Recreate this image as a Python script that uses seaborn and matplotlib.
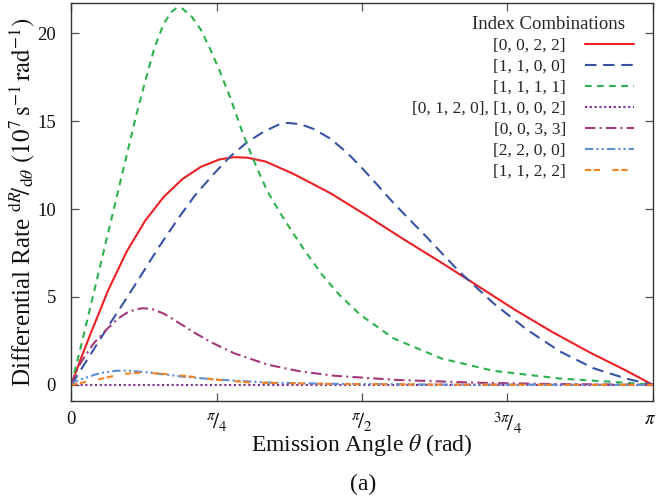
import numpy as np
import pandas as pd
import matplotlib
matplotlib.use("Agg")
import matplotlib.pyplot as plt
import matplotlib.transforms as mtransforms
import seaborn as sns

# Emission-angle samples (rad) and differential rates (10^7 s^-1 rad^-1) per index combination
theta_0022 = [0.0, 0.05, 0.1, 0.2, 0.3, 0.4, 0.5, 0.6, 0.7, 0.8, 0.88, 0.95, 1.05, 1.2, 1.4, 1.6,
              1.8, 2.0, 2.2, 2.4, 2.6, 2.8, 3.0, np.pi]
rate_0022 = [0.0, 1.45, 2.8, 5.4, 7.6, 9.35, 10.7, 11.7, 12.4, 12.82, 12.95, 12.92, 12.7, 12.0, 10.9, 9.6,
             8.25, 6.95, 5.6, 4.25, 3.0, 1.85, 0.8, 0.0]

theta_1100 = [0.0, 0.06, 0.12, 0.21, 0.30, 0.39, 0.48, 0.59, 0.67, 0.77, 0.86, 0.95, 1.04, 1.12,
              1.17, 1.24, 1.31, 1.40, 1.49, 1.56, 1.63, 1.74, 1.92, 2.10, 2.28, 2.46, 2.64,
              2.82, 3.00, np.pi]
rate_1100 = [0.0, 1.0, 2.0, 3.5, 4.95, 6.45, 7.95, 9.65, 10.8, 12.0, 13.0, 13.8, 14.4, 14.8,
             14.9, 14.82, 14.55, 14.0, 13.2, 12.45, 11.65, 10.35, 8.4, 6.4, 4.65, 3.15, 1.9,
             0.95, 0.35, 0.0]

theta_1111 = [0.0, 0.05, 0.10, 0.15, 0.20, 0.25, 0.30, 0.35, 0.40, 0.45, 0.50, 0.54, 0.57, 0.60,
              0.65, 0.70, 0.75, 0.80, 0.86, 0.93, 1.00, 1.06, 1.13, 1.20, 1.27, 1.36, 1.45,
              1.56, 1.74, 2.00, 2.28, 2.64, 3.00, np.pi]
rate_1111 = [0.0, 2.1, 4.3, 6.5, 8.7, 10.9, 13.1, 15.3, 17.3, 19.2, 20.55, 21.2, 21.45, 21.4,
             20.95, 20.2, 19.1, 17.9, 16.3, 14.2, 12.4, 11.0, 9.75, 8.6, 7.5, 6.2, 5.1,
             4.0, 2.65, 1.5, 0.8, 0.36, 0.12, 0.0]

theta_0120 = [0.0, np.pi / 4, np.pi / 2, 3 * np.pi / 4, np.pi]
rate_0120 = [0.0, 0.0, 0.0, 0.0, 0.0]

theta_0033 = [0.0, 0.02, 0.05, 0.12, 0.20, 0.25, 0.30, 0.35, 0.39, 0.44, 0.50, 0.57, 0.66, 0.76,
              0.88, 1.06, 1.24, 1.42, 1.76, 2.20, 2.60, np.pi]
rate_0033 = [0.0, 0.6, 1.25, 2.35, 3.25, 3.75, 4.1, 4.3, 4.36, 4.3, 4.05, 3.6, 3.0, 2.4,
             1.8, 1.15, 0.76, 0.52, 0.28, 0.12, 0.05, 0.0]

theta_2200 = [0.0, 0.02, 0.07, 0.15, 0.24, 0.31, 0.42, 0.60, 0.70, 0.76, 1.06, 1.42, 2.00, np.pi]
rate_2200 = [0.0, 0.19, 0.38, 0.66, 0.80, 0.81, 0.70, 0.47, 0.38, 0.32, 0.13, 0.06, 0.02, 0.0]

theta_1122 = [0.0, 0.15, 0.27, 0.38, 0.51, 0.69, 0.76, 0.97, 1.40, 2.00, np.pi]
rate_1122 = [0.0, 0.32, 0.61, 0.70, 0.62, 0.42, 0.32, 0.13, 0.05, 0.02, 0.0]

labels = ["[0, 0, 2, 2]", "[1, 1, 0, 0]", "[1, 1, 1, 1]", "[0, 1, 2, 0], [1, 0, 0, 2]",
          "[0, 0, 3, 3]", "[2, 2, 0, 0]", "[1, 1, 2, 2]"]
thetas = [theta_0022, theta_1100, theta_1111, theta_0120, theta_0033, theta_2200, theta_1122]
rates = [rate_0022, rate_1100, rate_1111, rate_0120, rate_0033, rate_2200, rate_1122]

colors = ["#ee2024", "#3953a4", "#2bb24c", "#7d2a8e", "#a3387a", "#5b8fd6", "#f7821e"]
dash_styles = ["", (5.5, 3.2), (3.2, 2.6), (1.0, 1.3), (5.0, 2.0, 1.0, 2.0),
               (4.0, 1.5, 1.0, 1.5, 1.0, 1.5), (3.0, 1.2, 3.0, 6.0)]

frames = [pd.DataFrame({"theta": t, "rate": r, "combo": lab})
          for t, r, lab in zip(thetas, rates, labels)]
df = pd.concat(frames, ignore_index=True)

sns.set_style("ticks")
plt.rcParams["font.family"] = ["Liberation Serif", "DejaVu Serif"]
plt.rcParams["mathtext.fontset"] = "stix"

fig = plt.figure(figsize=(6.56, 5.0), dpi=100)
ax = fig.add_axes([0.1087, 0.1986, 0.8864, 0.7948])

sns.lineplot(data=df, x="theta", y="rate", hue="combo", style="combo",
             hue_order=labels, style_order=labels,
             palette=dict(zip(labels, colors)), dashes=dict(zip(labels, dash_styles)),
             estimator=None, sort=True, linewidth=1.5, ax=ax)

ax.set_xlim(0, np.pi)
ax.set_ylim(-0.9, 21.7)
ax.set_xticks([0, np.pi / 4, np.pi / 2, 3 * np.pi / 4, np.pi])
ax.set_xticklabels(["0", r"$^{\pi}\!/_{4}$", r"$^{\pi}\!/_{2}$", r"$^{3\pi}\!/_{4}$", r"$\pi$"])
ax.set_yticks([0, 5, 10, 15, 20])
ax.tick_params(direction="in", length=6, width=0.9, color="#555555", labelsize=13.5,
               top=True, right=True, labelcolor="#111111")
ax.tick_params(axis="x", pad=7.5)
ax.tick_params(axis="y", pad=11)
xt = ax.get_xticklabels()
for lab in xt[1:4]:
    lab.set_fontsize(15.5)
xt[-1].set_transform(xt[-1].get_transform()
                     + mtransforms.ScaledTranslation(-3 / 100, 0, fig.dpi_scale_trans))
for sp in ax.spines.values():
    sp.set_color("#333333")
    sp.set_linewidth(1.0)

ax.set_xlabel(r"Emission Angle $\theta$ (rad)", fontsize=17, color="#111111", labelpad=-3)
ax.set_ylabel(r"Differential Rate $^{\mathrm{d}R}\!/_{\mathrm{d}\theta}$ "
              r"$\left(10^{7}\,\mathrm{s}^{-1}\,\mathrm{rad}^{-1}\right)$",
              fontsize=18, color="#111111", labelpad=0)

handles, _ = ax.get_legend_handles_labels()
leg = ax.legend(handles[-len(labels):], labels, title="Index Combinations",
                loc="upper right", bbox_to_anchor=(0.985, 0.995), frameon=False,
                markerfirst=False, fontsize=12.5, title_fontsize=13.5,
                handlelength=2.8, handletextpad=1.1, labelspacing=0.28,
                borderaxespad=0.2, alignment="right")
leg.get_title().set_position((-9, 0))

fig.text(0.553, 0.032, "(a)", fontsize=17, ha="center", va="center", color="#111111")

fig.savefig("out.png", dpi=100)
